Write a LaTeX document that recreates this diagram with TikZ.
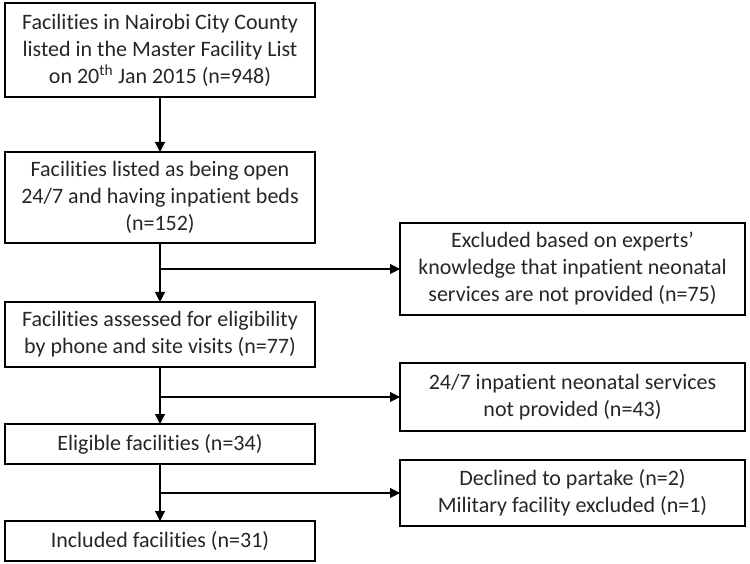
\documentclass[tikz,border=0pt]{standalone}
\usepackage{fontspec}
\setmainfont{Carlito}[Ligatures=NoCommon]
\usetikzlibrary{arrows.meta}

\begin{document}
\begin{tikzpicture}[x=1pt,y=-1pt,inner sep=0pt,outer sep=0pt,
    every node/.style={font=\fontsize{22}{27}\selectfont,text=black!85},
    flowbox/.style={draw,line width=1.1pt,align=center,minimum width=310pt},
    exclbox/.style={draw,line width=1.1pt,align=center,minimum width=345pt},
    flowarrow/.style={line width=1.1pt,-{Triangle[length=10pt,width=10pt]}}]
    %
  \useasboundingbox (0,0) rectangle (750,564);
  % main column
  \node[flowbox,minimum height=94pt] (listed) at (160,50)
  {Facilities in Nairobi City County\\listed in the Master Facility List\\on 20\textsuperscript{th} Jan 2015 (n=948)};
  \node[flowbox,minimum height=91pt] (open) at (160,197.5)
  {Facilities listed as being open\\24/7 and having inpatient beds\\(n=152)};
  \node[flowbox,minimum height=65pt] (assessed) at (160,334.5)
  {Facilities assessed for eligibility\\by phone and site visits (n=77)};
  \node[flowbox,minimum height=40pt] (eligible) at (160,444)
  {Eligible facilities (n=34)};
  \node[flowbox,minimum height=40pt] (included) at (160,541)
  {Included facilities (n=31)};
  % exclusions
  \node[exclbox,minimum height=92pt] (excl_expert) at (572.5,269)
  {Excluded based on experts'\\knowledge that inpatient neonatal\\services are not provided (n=75)};
  \node[exclbox,minimum height=68pt] (excl_service) at (572.5,397)
  {24/7 inpatient neonatal services\\not provided (n=43)};
  \node[exclbox,minimum height=66pt] (excl_declined) at (572.5,493)
  {Declined to partake (n=2)\\Military facility excluded (n=1)};
  % connectors
  \coordinate (split_a) at (open.south |- excl_expert.west);
  \coordinate (split_b) at (assessed.south |- excl_service.west);
  \coordinate (split_c) at (eligible.south |- excl_declined.west);
  \draw[flowarrow] (listed.south) -- (open.north);
  \draw[flowarrow] (open.south) -- (assessed.north);
  \draw[flowarrow] (assessed.south) -- (eligible.north);
  \draw[flowarrow] (eligible.south) -- (included.north);
  \draw[flowarrow] (split_a) -- (excl_expert.west);
  \draw[flowarrow] (split_b) -- (excl_service.west);
  \draw[flowarrow] (split_c) -- (excl_declined.west);

\end{tikzpicture}
\end{document}
